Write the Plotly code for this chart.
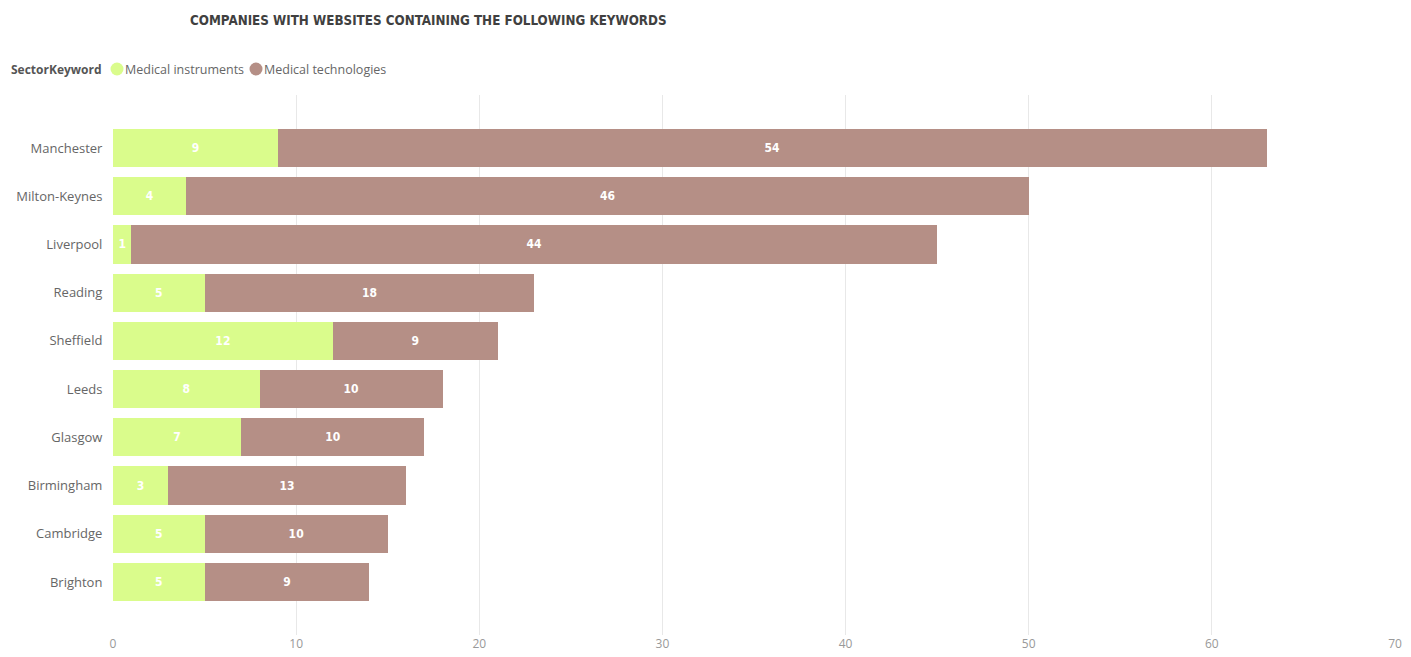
import plotly.graph_objects as go

cities = ["Manchester", "Milton-Keynes", "Liverpool", "Reading", "Sheffield",
          "Leeds", "Glasgow", "Birmingham", "Cambridge", "Brighton"]
instruments = [9, 4, 1, 5, 12, 8, 7, 3, 5, 5]
technologies = [54, 46, 44, 18, 9, 10, 10, 13, 10, 9]
x_ticks = [0, 10, 20, 30, 40, 50, 60, 70]
series_names = ["Medical instruments", "Medical technologies"]

GREEN = "#DAFC8C"
BROWN = "#B58F86"
label_font = dict(family="DejaVu Sans Condensed", size=12, color="white", weight="bold")

fig = go.Figure()
for name, vals, col in [(series_names[0], instruments, GREEN),
                        (series_names[1], technologies, BROWN)]:
    fig.add_trace(go.Bar(
        y=cities, x=vals, name=name, orientation="h",
        marker=dict(color=col, line=dict(width=0)),
        text=[str(v) for v in vals], textposition="inside",
        insidetextanchor="middle", textangle=0, constraintext="none",
        textfont=label_font, hoverinfo="x+y+name", showlegend=False,
    ))

W, H = 1411, 657
L, R, T, B = 113, 16, 95, 22
pw, ph = W - L - R, H - T - B

def px_x(p):
    return (p - L) / pw

def px_y(p):
    return 1 - (p - T) / ph

annotations = [dict(
    text="<b>COMPANIES WITH WEBSITES CONTAINING THE FOLLOWING KEYWORDS</b>",
    xref="paper", yref="paper", x=px_x(188), y=px_y(20),
    xanchor="left", yanchor="middle", showarrow=False,
    font=dict(family="DejaVu Sans Condensed", size=13.3, color="#404040"),
)]
annotations.append(dict(
    text="<b>SectorKeyword</b>", xref="paper", yref="paper",
    x=px_x(9), y=px_y(69), xanchor="left", yanchor="middle", showarrow=False,
    font=dict(family="Open Sans", size=12, color="#555555"),
))
shapes = []
for name, col, cx in [(series_names[0], GREEN, 117), (series_names[1], BROWN, 256)]:
    annotations.append(dict(
        text=name, xref="paper", yref="paper", x=px_x(cx + 6), y=px_y(69),
        xanchor="left", yanchor="middle", showarrow=False,
        font=dict(family="Open Sans", size=12.5, color="#666666"),
    ))
    shapes.append(dict(
        type="circle", xref="paper", yref="paper",
        x0=px_x(cx - 6.5), x1=px_x(cx + 6.5), y0=px_y(69 + 6.5), y1=px_y(69 - 6.5),
        fillcolor=col, line=dict(width=0),
    ))

fig.update_layout(
    barmode="stack",
    bargap=0.21,
    width=W, height=H,
    margin=dict(l=L, r=R, t=T, b=B, autoexpand=False),
    paper_bgcolor="white", plot_bgcolor="white",
    font=dict(family="Open Sans", color="#666666", size=13),
    showlegend=False,
    xaxis=dict(
        range=[0, 70], tickvals=x_ticks, showgrid=True, gridcolor="#E8E8E8",
        gridwidth=1, zeroline=False, showline=False, automargin=False,
        tickfont=dict(size=12, color="#999999"), ticks="",
    ),
    yaxis=dict(
        categoryorder="array", categoryarray=cities, automargin=False,
        range=[9.5 + 0.6, -0.5 - 0.6], showgrid=False, zeroline=False,
        tickfont=dict(size=13, color="#666666"), ticks="outside",
        ticklen=7, tickcolor="rgba(0,0,0,0)",
    ),
    annotations=annotations,
    shapes=shapes,
)

fig.write_html("out.html", config={"displayModeBar": False},
               post_script="document.body.style.margin='0px';")
